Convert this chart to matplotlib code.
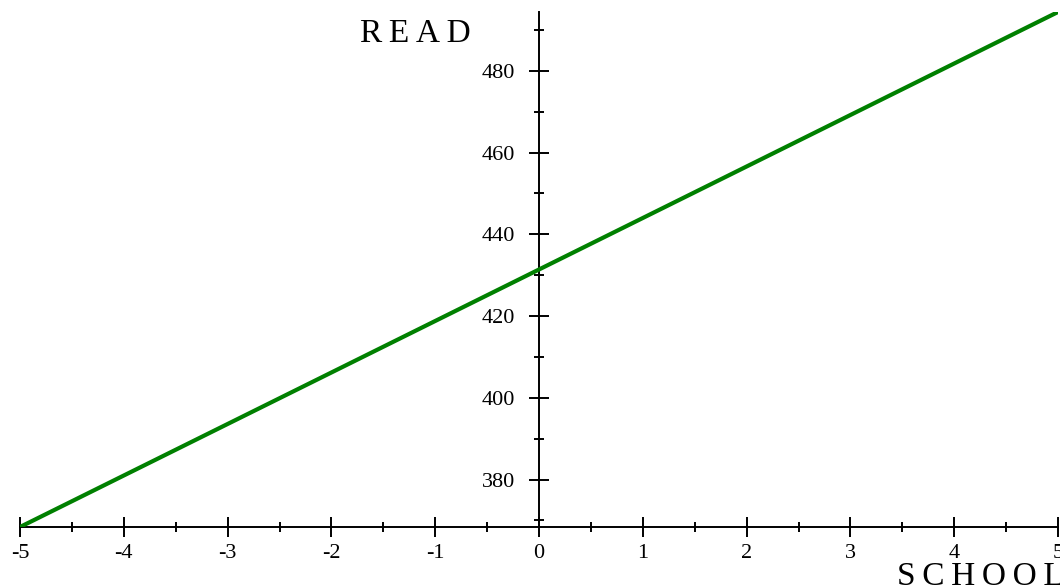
import numpy as np
import matplotlib
matplotlib.use("Agg")
import matplotlib.pyplot as plt
from matplotlib.ticker import MultipleLocator

plt.rcParams["font.family"] = ["Liberation Serif", "DejaVu Serif"]

# fitted line READ = a + b * SCHOOL over SCHOOL in [-5, 5]
school_range = [-5, 5]
intercept = 431.4
slope = 12.6
x_ticks = [-5, -4, -3, -2, -1, 0, 1, 2, 3, 4, 5]
y_ticks = [380, 400, 420, 440, 460, 480]

x = np.array(school_range, dtype=float)
y = intercept + slope * x

W, H = 1060, 588
fig = plt.figure(figsize=(W / 100, H / 100), dpi=100)
ax = fig.add_axes([20 / W, 1 - 527 / H, 1038 / W, 515 / H])

ax.plot(x, y, color="#008000", lw=3.0, solid_capstyle="butt", zorder=3)

ax.set_xlim(x[0], x[1])
ax.set_ylim(y.min(), y.max())

# axes cross at x = 0 and at the bottom of the view
ax.spines["left"].set_position(("data", 0))
ax.spines["bottom"].set_position(("data", y.min()))
ax.spines["top"].set_visible(False)
ax.spines["right"].set_visible(False)
for s in ("left", "bottom"):
    ax.spines[s].set_linewidth(1.4)

thin = "\u2009"
ax.set_xticks(x_ticks)
ax.set_xticklabels([str(v) for v in x_ticks])
ax.set_yticks(y_ticks)
ax.set_yticklabels([str(v) for v in y_ticks])
ax.xaxis.set_minor_locator(MultipleLocator(0.5))
ax.yaxis.set_minor_locator(MultipleLocator(10))

ax.tick_params(axis="both", which="major", direction="inout", length=14,
               width=1.4, labelsize=16, color="black")
ax.tick_params(axis="both", which="minor", direction="inout", length=7,
               width=1.4)
ax.tick_params(axis="x", which="major", pad=5)
ax.tick_params(axis="y", which="major", pad=10)

# letter-spaced axis titles, placed in pixels from the top-left corner
fig.text(360 / W, 1 - 42 / H, thin.join("READ"), fontsize=24, ha="left",
         va="baseline")
fig.text(897 / W, 1 - 585 / H, thin.join("SCHOOL"), fontsize=24, ha="left",
         va="baseline")

fig.savefig("out.png", dpi=100)
